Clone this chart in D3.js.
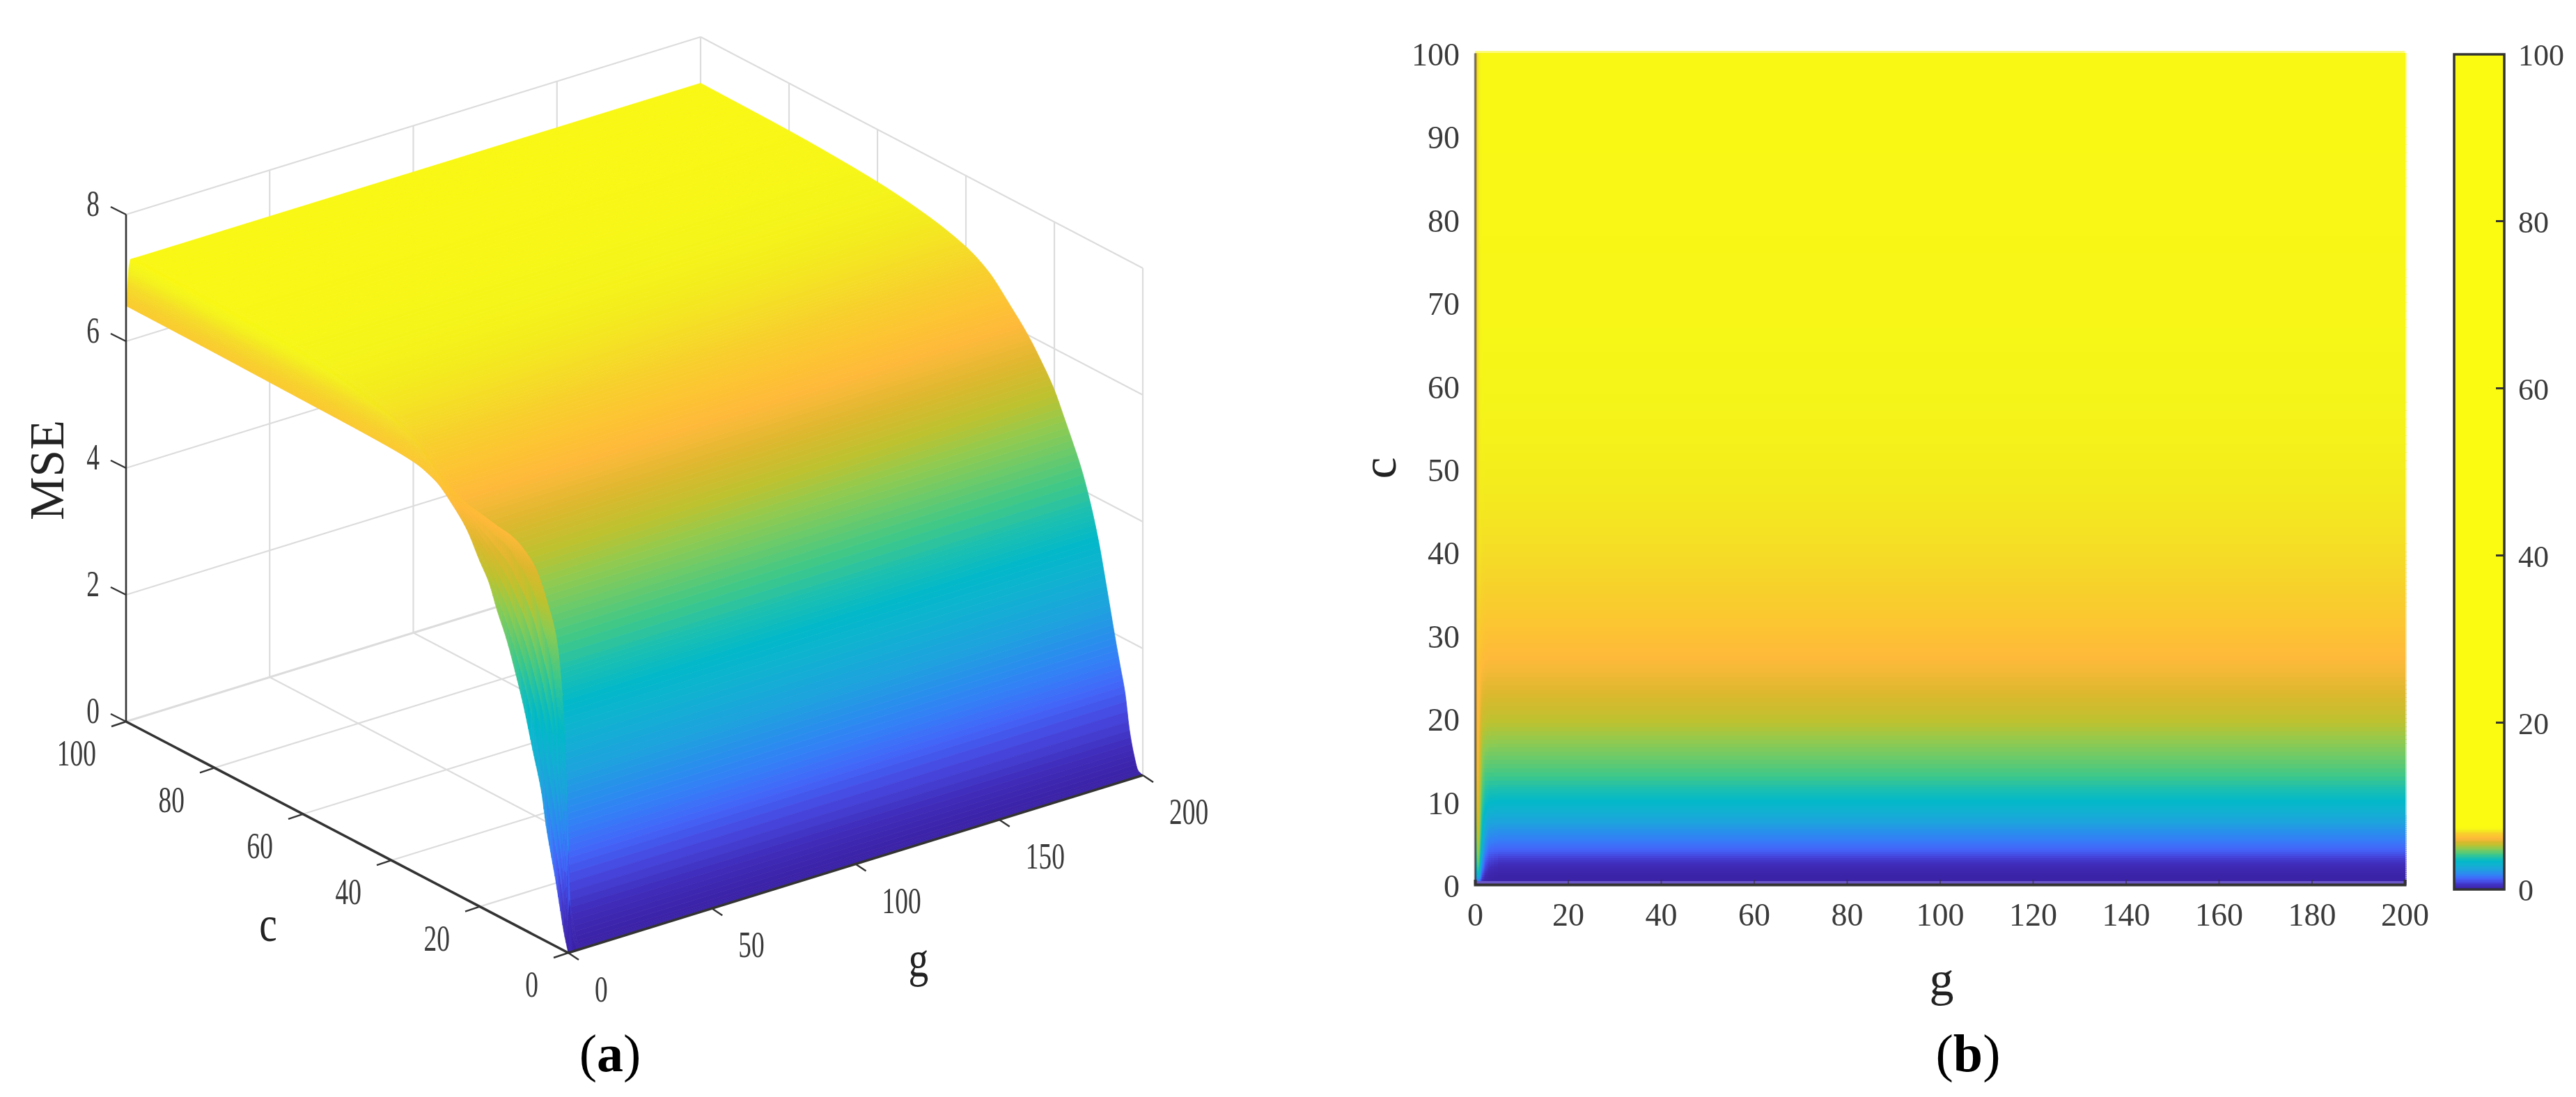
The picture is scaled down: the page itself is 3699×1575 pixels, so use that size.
<!DOCTYPE html>
<html><head><meta charset="utf-8">
<script src="https://cdn.jsdelivr.net/npm/d3@7/dist/d3.min.js"></script>
<style>
html,body{margin:0;padding:0;background:#fff;overflow:hidden}
svg{display:block;filter:blur(0.7px)}
text{font-family:"Liberation Serif","Times New Roman",serif}
</style></head><body>
<svg id="chart" width="3699" height="1575" viewBox="0 0 3699 1575"></svg>
<script>
// ---------- data ----------
const cValues = [0,1,2,3,4,5,6,8,10,12,14,16,18,20,23,26,30,35,40,50,60,70,80,100];
const gValues = [0,0.3,0.6,1,1.5,2.2,3,5,200];
const mseG0   = [0,.3,.7,1.1,1.45,1.82,2.3,2.9,3.5,4.0,4.45,4.8,5.2,5.45,5.85,6.1,6.35,6.47,6.5,6.52,6.53,6.54,6.55,6.56];
const mseG03  = [0,2.2,3.3,3.9,4.4,4.7,4.9,5.35,5.6,5.75,5.9,5.95,6.0,6.05,6.15,6.25,6.42,6.55,6.62,6.66,6.68,6.7,6.7,6.72];
const mseG06  = [0,3.0,4.2,4.8,5.1,5.3,5.5,5.8,5.95,6.05,6.1,6.12,6.15,6.18,6.22,6.3,6.5,6.7,6.8,6.85,6.88,6.9,6.9,6.92];
const mseG1   = [0,2.4,3.4,4.0,4.4,4.7,4.9,5.2,5.35,5.5,5.65,5.75,5.85,5.95,6.1,6.25,6.5,6.8,6.95,7.05,7.1,7.12,7.14,7.16];
const mseG15  = [0,.9,1.7,2.3,2.8,3.1,3.4,3.8,4.2,4.5,4.8,5.0,5.25,5.5,5.8,6.1,6.42,6.72,6.9,7.08,7.18,7.22,7.25,7.27];
const mseG22  = [0,.3,.8,1.2,1.7,2.1,2.4,3.0,3.6,4.05,4.42,4.8,5.1,5.4,5.72,6.02,6.34,6.68,6.88,7.07,7.17,7.22,7.25,7.27];
const mseG3   = [0,.12,.45,.85,1.25,1.6,1.95,2.65,3.38,3.92,4.36,4.72,5.05,5.35,5.7,6.0,6.32,6.68,6.88,7.07,7.17,7.22,7.25,7.27];
const mseG5   = [0,.04,.28,.65,1.15,1.5,1.85,2.6,3.33,3.9,4.35,4.7,5.03,5.35,5.7,6.0,6.32,6.68,6.88,7.07,7.17,7.22,7.25,7.27];
const mseG200 = [0,.03,.25,.6,1.15,1.5,1.85,2.6,3.33,3.9,4.35,4.7,5.03,5.35,5.7,6.0,6.32,6.68,6.88,7.07,7.17,7.22,7.25,7.27];
const mseColumns = [mseG0,mseG03,mseG06,mseG1,mseG15,mseG22,mseG3,mseG5,mseG200];

const colourStops = [0,.4,.85,1.25,1.67,2.37,3.0,3.35,3.8,4.18,4.88,5.3,5.7,6.1,6.35,6.68,6.88,7.07,7.17,7.27,7.6];
const colourHex = ['#3b22a6','#3f2bb8','#4545dc','#4463f8','#3380f7','#1ea1de','#0fb3cf','#02b8c9','#1dc0ae','#40c888','#8dcb52','#bdc22f','#dcb82e','#feb93a','#fdc233','#f8cf2c','#f5dc27','#f4ee1c','#f5f519','#f9f714','#fbfb12'];

const zTicks3d = [0,2,4,6,8];
const cTicks3d = [0,20,40,60,80,100];
const gTicks3d = [0,50,100,150,200];
const gTicks2d = [0,20,40,60,80,100,120,140,160,180,200];
const cTicks2d = [0,10,20,30,40,50,60,70,80,90,100];
const barTicks = [0,20,40,60,80,100];

// ---------- shared helpers ----------
const svg = d3.select('#chart');
const colour = d3.scaleLinear().domain(colourStops).range(colourHex).interpolate(d3.interpolateRgb).clamp(true);
// shape-preserving curve through the values read at cValues
function monotone(xs,ys){
  const n=xs.length, h=[], s=[], m=new Array(n);
  for(let i=0;i<n-1;i++){h[i]=xs[i+1]-xs[i];s[i]=(ys[i+1]-ys[i])/h[i];}
  m[0]=s[0];m[n-1]=s[n-2];
  for(let i=1;i<n-1;i++){
    if(s[i-1]*s[i]<=0)m[i]=0;
    else{const w1=2*h[i]+h[i-1],w2=h[i]+2*h[i-1];m[i]=(w1+w2)/(w1/s[i-1]+w2/s[i]);}
  }
  return t=>{
    let i=d3.bisectRight(xs,t)-1;i=Math.max(0,Math.min(n-2,i));
    const u=(t-xs[i])/h[i],u2=u*u,u3=u2*u;
    return (2*u3-3*u2+1)*ys[i]+(u3-2*u2+u)*h[i]*m[i]+(-2*u3+3*u2)*ys[i+1]+(u3-u2)*h[i]*m[i+1];
  };
}
const zAtC = mseColumns.map(col => monotone(cValues,col));
const gLook = d3.scaleLinear().domain(gValues).range(d3.range(gValues.length)).clamp(true);
function mse(g,c){
  const t = gLook(g), i = Math.min(Math.floor(t), gValues.length-2), f = t-i;
  return zAtC[i](c)*(1-f)+zAtC[i+1](c)*f;
}
const cRows = [...d3.range(0,12,.25),...d3.range(12,40,.5),...d3.range(40,100.01,1)];
const gCols3d = [...d3.range(0,1,.05),...d3.range(1,3,.1),3,3.5,4,5,200];
const gCols2d = [...d3.range(0,3,.15),3,3.5,4,5,200];
const TXT='#3a3a3a', AX='#333', GRID='#dcdcdc';

// ---------- (a) surface ----------
const a = svg.append('g');
const gx = d3.scaleLinear([0,200],[816,1641]), gy = d3.scaleLinear([0,200],[1368,1113]);
const cx = d3.scaleLinear([0,100],[0,-635]), cy = d3.scaleLinear([0,100],[0,-332]);
const zy = d3.scaleLinear([0,8],[0,-728]);
const P = (g,c,z)=>[gx(g)+cx(c), gy(g)+cy(c)+zy(z)];
const seg = (sel,p,q,col,w)=>sel.append('line').attr('x1',p[0]).attr('y1',p[1]).attr('x2',q[0]).attr('y2',q[1]).attr('stroke',col).attr('stroke-width',w);

const grid = a.append('g');
zTicks3d.forEach(z=>{
  seg(grid,P(0,100,z),P(200,100,z),GRID,z===0?3:2.2);
  seg(grid,P(200,100,z),P(200,0,z),GRID,2.2);
});
gTicks3d.slice(1).forEach(g=>seg(grid,P(g,100,0),P(g,100,8),GRID,2.2));
cTicks3d.slice(0,5).forEach(c=>seg(grid,P(200,c,0),P(200,c,8),GRID,2.2));
gTicks3d.slice(1,4).forEach(g=>seg(grid,P(g,100,0),P(g,0,0),GRID,2.2));
cTicks3d.slice(1,5).forEach(c=>seg(grid,P(0,c,0),P(200,c,0),GRID,2.2));

// painter's order: far corner first
const surf = a.append('g');
const line = d3.line();
for(let gi=gCols3d.length-2;gi>=0;gi--){
  const g0=gCols3d[gi], g1=gCols3d[gi+1];
  for(let ci=cRows.length-2;ci>=0;ci--){
    const c0=cRows[ci], c1=cRows[ci+1];
    const col=colour((mse(g0,c0)+mse(g1,c0)+mse(g0,c1)+mse(g1,c1))/4);
    surf.append('path')
      .attr('d',line([P(g0,c0,mse(g0,c0)),P(g1,c0,mse(g1,c0)),P(g1,c1,mse(g1,c1)),P(g0,c1,mse(g0,c1))])+'Z')
      .attr('fill',col).attr('stroke',col).attr('stroke-width',.7);
  }
}
// axes of the 3D box
const ax3 = a.append('g');
seg(ax3,P(0,100,0),P(0,100,8),AX,2.6);
seg(ax3,P(0,100,0),P(0,0,0),AX,3.6);
seg(ax3,P(0,0,0),P(200,0,0),AX,3.6);
zTicks3d.forEach(z=>{const p=P(0,100,z);seg(ax3,p,[p[0]-22,p[1]-11],AX,2.4);});
cTicks3d.forEach(c=>{const p=P(0,c,0);seg(ax3,p,[p[0]-21,p[1]+7],AX,2.4);});
gTicks3d.forEach(g=>{const p=P(g,0,0);seg(ax3,p,[p[0]+15,p[1]+10],AX,2.4);});

function squeezed(x,y,t,anchor){
  a.append('text').attr('transform',`translate(${x},${y}) scale(.72,1)`)
    .attr('text-anchor',anchor).attr('dominant-baseline','central')
    .attr('font-size',52).attr('fill',TXT).text(t);
}
zTicks3d.forEach(z=>{const p=P(0,100,z);squeezed(p[0]-38,p[1]-15,z,'end');});
cTicks3d.forEach(c=>{const p=P(0,c,0);squeezed(p[0]-43,p[1]+46,c,'end');});
gTicks3d.forEach(g=>{const p=P(g,0,0);squeezed(p[0]+38,p[1]+53,g,'start');});

a.append('text').attr('transform','translate(385,1327) scale(.8,1)').attr('text-anchor','middle').attr('dominant-baseline','central').attr('font-size',72).attr('fill','#222').text('c');
a.append('text').attr('transform','translate(1319,1378) scale(.8,1)').attr('text-anchor','middle').attr('dominant-baseline','central').attr('font-size',72).attr('fill','#222').text('g');
a.append('text').attr('transform','translate(67,675) rotate(-90)').attr('text-anchor','middle').attr('dominant-baseline','central').attr('font-size',70).attr('fill','#222').text('MSE');

// ---------- (b) heat map ----------
const b = svg.append('g');
const x = d3.scaleLinear([0,200],[2118,3453]);
const y = d3.scaleLinear([0,100],[1270,76]);
const heat = b.append('g').attr('shape-rendering','crispEdges');
for(let ci=0;ci<cRows.length-1;ci++){
  const c0=cRows[ci], c1=cRows[ci+1];
  for(let gi=0;gi<gCols2d.length-1;gi++){
    const g0=gCols2d[gi], g1=gCols2d[gi+1];
    heat.append('rect').attr('x',x(g0)).attr('width',x(g1)-x(g0)+.5)
      .attr('y',y(c1)).attr('height',y(c0)-y(c1)+.5)
      .attr('fill',colour(mse((g0+g1)/2,(c0+c1)/2)));
  }
  // faint pixel fringe on the right edge of the image
  heat.append('rect').attr('x',x(200)).attr('width',3)
    .attr('y',y(c1)).attr('height',y(c0)-y(c1)+.5)
    .attr('fill',colour(mse(200,(c0+c1)/2))).attr('opacity',.45);
}
heat.append('rect').attr('x',x(0)).attr('y',y(100)-3).attr('width',x(200)-x(0)).attr('height',3)
  .attr('fill',colour(mse(200,100))).attr('opacity',.55);
heat.append('rect').attr('x',x(0)).attr('y',y(0)-5).attr('width',x(200)-x(0)).attr('height',5)
  .attr('fill','#6c57c9');

const xAxis = d3.axisBottom(x).tickValues(gTicks2d).tickSize(-7).tickPadding(26).tickFormat(d3.format('d'));
const gxA = b.append('g').attr('transform','translate(0,1270)').call(xAxis);
const yAxis = d3.axisLeft(y).tickValues(cTicks2d).tickSize(0).tickPadding(22).tickFormat(d3.format('d'));
const gyA = b.append('g').attr('transform','translate(2118,0)').call(yAxis);
[gxA,gyA].forEach(s=>{s.selectAll('text').attr('font-size',46).attr('fill',TXT).style('font-family','"Liberation Serif",serif');});
gxA.selectAll('text').attr('dy','0.71em');
gyA.selectAll('text').attr('dy','0.38em');
gxA.select('.domain').attr('stroke',AX).attr('stroke-width',4);
gxA.selectAll('line').attr('stroke',AX).attr('stroke-width',2).attr('opacity',.6);
gyA.select('.domain').attr('stroke','#333').attr('stroke-width',3.5).attr('opacity',.6);

b.append('text').attr('x',2788).attr('y',1405).attr('text-anchor','middle').attr('dominant-baseline','central').attr('font-size',70).attr('fill','#222').text('g');
b.append('text').attr('transform','translate(1980,672) rotate(-90)').attr('text-anchor','middle').attr('dominant-baseline','central').attr('font-size',70).attr('fill','#222').text('c');

// ---------- colour bar ----------
const barX0=3524, barX1=3596;
const by = d3.scaleLinear([0,100],[1277,78]);
const barG = b.append('g').attr('shape-rendering','crispEdges');
d3.range(0,8,.1).forEach(v=>{
  barG.append('rect').attr('x',barX0).attr('width',barX1-barX0)
    .attr('y',by(v+.1)).attr('height',by(v)-by(v+.1)+.5).attr('fill',colour(v));
});
barG.append('rect').attr('x',barX0).attr('width',barX1-barX0).attr('y',by(100)).attr('height',by(8)-by(100)+.5).attr('fill',colour(8));
barG.selectAll(null).data(barTicks.slice(1,5)).enter().append('line')
  .attr('x1',barX1-12).attr('x2',barX1).attr('y1',d=>by(d)).attr('y2',d=>by(d)).attr('stroke',AX).attr('stroke-width',3);
b.append('rect').attr('x',barX0).attr('y',by(100)).attr('width',barX1-barX0).attr('height',by(0)-by(100))
  .attr('fill','none').attr('stroke',AX).attr('stroke-width',3.5);
const barAxis = d3.axisRight(by).tickValues(barTicks).tickSize(0).tickPadding(20).tickFormat(d3.format('d'));
const gB = b.append('g').attr('transform',`translate(${barX1},0)`).call(barAxis);
gB.select('.domain').remove();
gB.selectAll('text').attr('font-size',44).attr('fill',TXT).attr('dy','0.36em').style('font-family','"Liberation Serif",serif');

// ---------- captions ----------
[['a',876,1512],['b',2826,1512]].forEach(([t,cxp,cyp])=>{
  const tx=svg.append('text').attr('x',cxp).attr('y',cyp).attr('text-anchor','middle').attr('dominant-baseline','central').attr('font-size',76).attr('fill','#000');
  tx.append('tspan').text('(');
  tx.append('tspan').attr('font-weight','bold').text(t);
  tx.append('tspan').text(')');
});
</script>
</body></html>
